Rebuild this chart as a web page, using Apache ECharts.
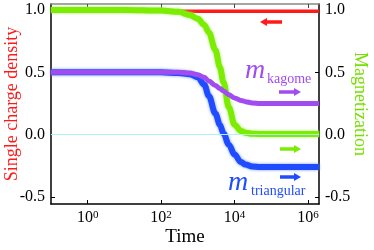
<!DOCTYPE html>
<html><head><meta charset="utf-8">
<script src="https://cdn.jsdelivr.net/npm/echarts@6/dist/echarts.min.js"></script>
<style>html,body{margin:0;padding:0;background:#fff}#c{width:374px;height:250px}</style>
</head><body><div id="c"></div>
<script>
const FONT = '"Liberation Serif", "Times New Roman", serif';
const times = [0.1, 1, 10, 100, 300, 600, 1000, 1500, 2000, 3000, 4000, 5000, 7000, 10000, 15000, 20000, 30000, 50000, 100000, 1000000, 2000000];
const chargeDensity = [0.99, 0.99, 0.99, 0.99, 0.99, 0.99, 0.99, 0.99, 0.99, 0.99, 0.99, 0.99, 0.99, 0.99, 0.99, 0.99, 0.99, 0.99, 0.99, 0.99, 0.99];
const magnetization = [1.0, 1.0, 1.0, 0.995, 0.985, 0.96, 0.93, 0.88, 0.82, 0.68, 0.54, 0.42, 0.22, 0.08, 0.03, 0.015, 0.008, 0.005, 0.005, 0.005, 0.005];
const mTriangular = [0.5, 0.5, 0.5, 0.5, 0.495, 0.485, 0.46, 0.40, 0.31, 0.17, 0.08, 0.01, -0.08, -0.16, -0.22, -0.24, -0.255, -0.26, -0.26, -0.26, -0.26];
const mKagome = [0.5, 0.5, 0.5, 0.5, 0.5, 0.495, 0.48, 0.46, 0.43, 0.395, 0.37, 0.35, 0.32, 0.295, 0.275, 0.265, 0.255, 0.25, 0.25, 0.25, 0.25];
const xTicks = [1, 100, 10000, 1000000];
const yTicks = [-0.5, 0, 0.5, 1.0];

const C_RED = '#ff1a1a', C_GREEN = '#7cec00', C_BLUE = '#1f4cff', C_PURPLE = '#a04cf0';
const pairs = arr => times.map((t, i) => [t, arr[i]]);

function xAxisBase(pos) {
  return {
    type: 'log', logBase: 10, min: 0.1, max: 2000000, position: pos,
    axisLine: { show: true, onZero: false, lineStyle: { color: pos === 'top' ? '#888' : '#000', width: 1.5 } },
    axisTick: { show: true, inside: true, length: 4, customValues: xTicks, lineStyle: { color: pos === 'top' ? '#444' : '#000' } },
    minorTick: { show: false },
    splitLine: { show: false },
    axisLabel: pos === 'top' ? { show: false } : {
      show: true, margin: 6, customValues: xTicks,
      formatter: v => '{b|10}{s|' + Math.round(Math.log10(v)) + '}',
      rich: { b: { fontSize: 16, fontFamily: FONT, color: '#000', verticalAlign: 'bottom' },
              s: { fontSize: 11, fontFamily: FONT, color: '#000', verticalAlign: 'top' } }
    }
  };
}
function yAxisBase(pos, name, color, gap, rot) {
  return {
    type: 'value', min: -0.556, max: 1.048, position: pos,
    name: name, nameLocation: 'middle', nameGap: gap, nameRotate: rot, nameMoveOverlap: false,
    nameTextStyle: { color: color, fontSize: 18, fontFamily: FONT },
    axisLine: { show: true, onZero: false, lineStyle: { color: '#000', width: 1.5 } },
    axisTick: { show: true, inside: true, length: 4, customValues: yTicks, lineStyle: { color: '#000' } },
    splitLine: { show: false },
    axisLabel: { show: true, margin: 6, customValues: yTicks, formatter: v => v.toFixed(1),
      fontSize: 16, fontFamily: FONT, color: '#000' }
  };
}
function arrow(x1, x2, y, color, left) {
  const head = 7, hh = 4;
  const tip = left ? x1 : x2;
  const base = left ? x1 + head : x2 - head;
  return [
    { type: 'line', shape: { x1: left ? base : x1, y1: y, x2: left ? x2 : base, y2: y }, style: { stroke: color, lineWidth: 3.5 }, z: 100 },
    { type: 'polygon', shape: { points: [[tip, y], [base, y - hh], [base, y + hh]] }, style: { fill: color }, z: 100 }
  ];
}

const chart = echarts.init(document.getElementById('c'), null, { renderer: 'canvas' });
chart.setOption({
  animation: false,
  grid: { left: 51, right: 55, top: 4, bottom: 46, containLabel: false, outerBoundsMode: 'none' },
  xAxis: [
    Object.assign(xAxisBase('bottom'), { name: 'Time', nameLocation: 'middle', nameGap: 24, nameMoveOverlap: false,
      nameTextStyle: { color: '#000', fontSize: 19, fontFamily: FONT } }),
    Object.assign(xAxisBase('top'), {})
  ],
  yAxis: [
    yAxisBase('left', 'Single charge density', C_RED, 30, 90),
    yAxisBase('right', 'Magnetization', '#77e000', 32, -90)
  ],
  series: [
    { type: 'line', data: pairs(chargeDensity), showSymbol: false, lineStyle: { color: C_RED, width: 3.5 }, z: 2,
      markLine: { silent: true, symbol: 'none', label: { show: false }, lineStyle: { color: '#b0f3ec', type: 'solid', width: 1 }, data: [{ yAxis: 0 }] } },
    { type: 'line', data: pairs(magnetization), yAxisIndex: 1, showSymbol: false, smooth: 0.35, smoothMonotone: 'x',
      lineStyle: { color: C_GREEN, width: 6, shadowColor: 'rgba(160,240,100,0.9)', shadowBlur: 3 }, z: 3 },
    { type: 'line', data: pairs(mTriangular), showSymbol: false, smooth: 0.35, smoothMonotone: 'x',
      lineStyle: { color: C_BLUE, width: 6, shadowColor: 'rgba(100,140,255,0.9)', shadowBlur: 3 }, z: 4 },
    { type: 'line', data: pairs(mKagome), showSymbol: false, smooth: 0.35, smoothMonotone: 'x',
      lineStyle: { color: C_PURPLE, width: 5 }, z: 5 }
  ],
  graphic: [
    { type: 'text', x: 245, y: 71, style: { text: 'm', font: 'italic 28px ' + FONT, fill: C_PURPLE, textVerticalAlign: 'middle' }, z: 100 },
    { type: 'text', x: 267, y: 79, style: { text: 'kagome', font: '14px ' + FONT, fill: C_PURPLE, textVerticalAlign: 'middle' }, z: 100 },
    { type: 'text', x: 228, y: 183, style: { text: 'm', font: 'italic 28px ' + FONT, fill: C_BLUE, textVerticalAlign: 'middle' }, z: 100 },
    { type: 'text', x: 251, y: 191, style: { text: 'triangular', font: '14px ' + FONT, fill: C_BLUE, textVerticalAlign: 'middle' }, z: 100 }
  ].concat(arrow(260, 282, 22, C_RED, true), arrow(279, 301, 92, C_PURPLE, false),
           arrow(280, 301, 149, C_GREEN, false), arrow(280, 301, 177, C_BLUE, false))
});
</script></body></html>
